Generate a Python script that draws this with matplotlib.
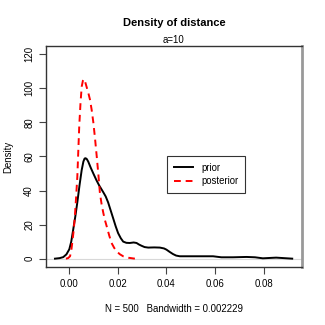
import numpy as np
import matplotlib.pyplot as plt

plt.rcParams['font.family'] = ['Liberation Sans', 'DejaVu Sans']

# prior density curve
prior_x = [-0.0059, -0.0040, -0.0025, -0.0012, 0.0000, 0.0008, 0.0016, 0.0025, 0.0033,
           0.0042, 0.0051, 0.0058, 0.0063, 0.0067, 0.0072, 0.0078, 0.0088, 0.0099,
           0.0112, 0.0123, 0.0140, 0.0150, 0.0160, 0.0170, 0.0180, 0.0191, 0.0201,
           0.0212, 0.0222, 0.0235, 0.0249, 0.0265, 0.0277, 0.0287, 0.0297, 0.0310,
           0.0325, 0.0350, 0.0373, 0.0390, 0.0400, 0.0413, 0.0427, 0.0440, 0.0455,
           0.0500, 0.0537, 0.0592, 0.0626, 0.0674, 0.0730, 0.0765, 0.0797, 0.0852, 0.0918]
prior_y = [0.0, 0.3, 0.9, 2.5, 5.5, 10.0, 17.0, 25.0, 33.0,
           43.0, 52.0, 57.0, 58.8, 59.0, 58.5, 57.0, 53.5, 50.0,
           46.0, 43.0, 39.0, 36.5, 33.0, 28.5, 24.0, 19.0, 15.0,
           12.0, 10.0, 9.3, 9.2, 9.5, 9.2, 8.3, 7.6, 6.8,
           6.5, 6.6, 6.5, 6.0, 5.3, 4.0, 2.7, 1.8, 1.4,
           1.4, 1.4, 1.4, 0.8, 0.8, 1.0, 0.8, 0.2, 0.6, 0.0]

# posterior density curve
post_x = [-0.0014, -0.0005, 0.0003, 0.0008, 0.0012, 0.0018, 0.0023, 0.0028, 0.0033,
          0.0037, 0.0041, 0.0046, 0.0051, 0.0056, 0.0060, 0.0065, 0.0071, 0.0078,
          0.0085, 0.0092, 0.0099, 0.0106, 0.0113, 0.0120, 0.0126, 0.0133, 0.0140,
          0.0147, 0.0154, 0.0164, 0.0174, 0.0185, 0.0195, 0.0208, 0.0222, 0.0245, 0.0270]
post_y = [0.0, 0.3, 1.4, 4.5, 9.2, 16.5, 25.0, 36.0, 48.0,
          63.0, 78.0, 91.0, 101.0, 104.5, 105.5, 104.0, 101.0, 97.5,
          93.5, 87.5, 80.0, 70.5, 60.0, 49.0, 38.6, 32.0, 26.9,
          22.5, 19.0, 13.8, 9.2, 6.3, 4.3, 2.6, 1.4, 0.5, 0.0]

fig = plt.figure(figsize=(3.25, 3.25), dpi=100)
ax = fig.add_axes([0.1415, 0.179, 0.7875, 0.679])

ax.axhline(0, color='#d8d8d8', lw=0.8, zorder=0)
ax.plot(prior_x, prior_y, color='black', lw=1.4, label='prior')
ax.plot(post_x, post_y, color='red', lw=1.4, ls=(0, (3.5, 2.5)), label='posterior')

ax.set_xlim(-0.0096, 0.0958)
ax.set_ylim(-4.8, 124.8)
ax.set_xticks([0.0, 0.02, 0.04, 0.06, 0.08])
ax.set_xticklabels(['0.00', '0.02', '0.04', '0.06', '0.08'])
ax.set_yticks([0, 20, 40, 60, 80, 100, 120])
ax.set_yticklabels(['0', '20', '40', '60', '80', '100', '120'], rotation=90, va='center')
ax.tick_params(labelsize=6.9, length=5, width=0.8, colors='#444444', labelcolor='black', pad=3.5)
for s in ax.spines.values():
    s.set_color('#333333')
    s.set_linewidth(1.0)
ax.spines['right'].set_color('#999999')
ax.spines['right'].set_linewidth(2.0)

ax.set_ylabel('Density', fontsize=6.9, labelpad=8)
ax.set_xlabel('N = 500   Bandwidth = 0.002229', fontsize=6.9, labelpad=11)
fig.text(0.535, 0.929, 'Density of distance', ha='center', va='center', fontsize=8, fontweight='bold')
ax.set_title('a=10', fontsize=6.9, pad=2)

leg = ax.legend(loc='upper left', bbox_to_anchor=(0.473, 0.502), fontsize=6.9, frameon=True,
                fancybox=False, edgecolor='black', handlelength=2.0, borderpad=0.7,
                labelspacing=0.35, handletextpad=0.85, borderaxespad=0)
leg.get_frame().set_linewidth(0.8)

plt.savefig('out.png', dpi=100)
